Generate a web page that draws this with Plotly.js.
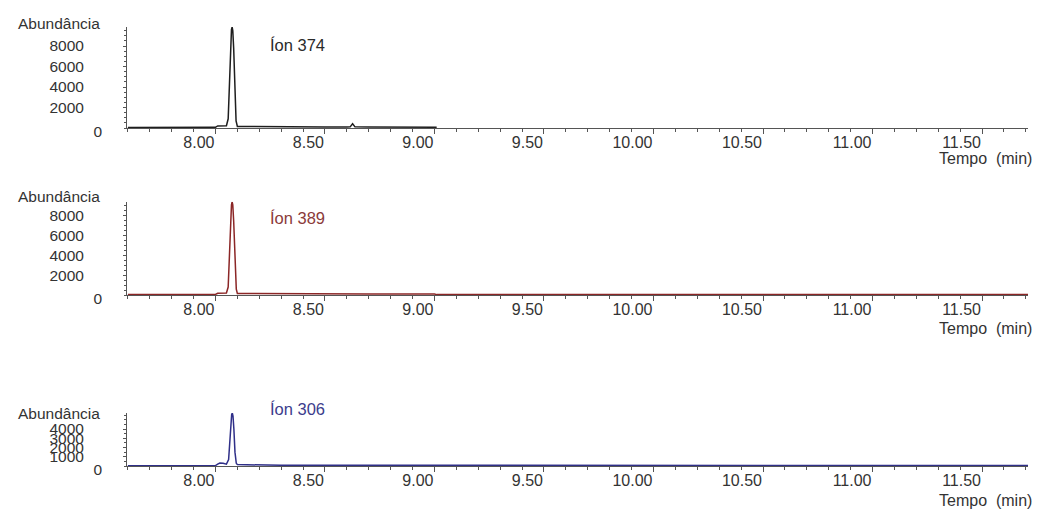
<!DOCTYPE html>
<html>
<head>
<meta charset="utf-8">
<script src="https://cdn.plot.ly/plotly-3.0.1.min.js"></script>
<style>html,body{margin:0;padding:0;background:#fff;}#chart{width:1040px;height:512px;}</style>
</head>
<body>
<div id="chart"></div>
<script>
// ---- data ----
const ionLabels = ['Íon 374', 'Íon 389', 'Íon 306'];
const yTitle = 'Abundância';
const xTitle = 'Tempo\u00a0\u00a0(min)';

const time374 = [7.60, 7.70, 7.80, 7.90, 8.00, 8.01, 8.05, 8.058, 8.064, 8.069, 8.073, 8.076, 8.079, 8.083, 8.088, 8.094, 8.10, 8.20, 8.30, 8.40, 8.50, 8.60, 8.615, 8.626, 8.637, 8.70, 8.80, 8.90, 9.01];
const abund374 = [60, 60, 60, 60, 70, 200, 220, 900, 4500, 8200, 9600, 9850, 9500, 7800, 3800, 700, 150, 120, 110, 100, 100, 100, 110, 420, 110, 100, 90, 90, 80];

const time389 = [7.60, 7.80, 8.00, 8.01, 8.05, 8.058, 8.064, 8.069, 8.073, 8.076, 8.079, 8.083, 8.088, 8.095, 8.10, 8.30, 8.50, 8.70, 9.00, 9.01, 9.50, 10.00, 10.50, 11.00, 11.50, 11.71];
const abund389 = [50, 50, 60, 180, 200, 800, 4200, 7800, 9100, 9400, 9100, 7500, 3600, 600, 150, 120, 110, 110, 100, 40, 40, 40, 40, 40, 40, 40];

const time306 = [7.60, 7.80, 8.00, 8.01, 8.02, 8.035, 8.05, 8.06, 8.066, 8.071, 8.074, 8.077, 8.080, 8.084, 8.089, 8.095, 8.10, 8.30, 8.50, 9.00, 9.50, 10.00, 10.50, 11.00, 11.50, 11.71];
const abund306 = [40, 40, 50, 200, 320, 300, 200, 700, 2600, 4900, 5600, 5700, 5400, 4000, 1500, 300, 150, 80, 80, 60, 50, 50, 50, 50, 50, 50];

const xTickVals = [8.00, 8.50, 9.00, 9.50, 10.00, 10.50, 11.00, 11.50];
const xTickText = ['8.00', '8.50', '9.00', '9.50', '10.00', '10.50', '11.00', '11.50'];
const yTickVals1 = [2000, 4000, 6000, 8000];
const yTickVals2 = [2000, 4000, 6000, 8000];
const yTickVals3 = [1000, 2000, 3000, 4000];
const zeroTick = [0];

// ---- styling ----
const FONT = 'Liberation Sans, Arial, sans-serif';
const TXT = '#333333';
const AX = '#555555';
const lineColors = ['#1e1e1e', '#8b2626', '#2f2f88'];
const labelColors = ['#2a2a2a', '#8b3a3a', '#3c3c8c'];

const xRange = [7.596, 11.71];
const H = 512;
const panels = [
  {base: 128, top: 27, ymax: 9854, ticks: yTickVals1, ionY: 44.5, abY: 23, xt: 158},
  {base: 295, top: 201.7, ymax: 9424, ticks: yTickVals2, ionY: 217.5, abY: 196, xt: 328},
  {base: 466, top: 413, ymax: 5730, ticks: yTickVals3, ionY: 409, abY: 413, xt: 500}
];
const series = [[time374, abund374], [time389, abund389], [time306, abund306]];

const data = [];
const layout = {
  width: 1040, height: 512,
  margin: {l: 127, r: 12, t: 0, b: 0, pad: 0},
  paper_bgcolor: '#ffffff', plot_bgcolor: '#ffffff',
  showlegend: false,
  font: {family: FONT, size: 15, color: TXT},
  annotations: []
};

panels.forEach((p, i) => {
  const n = i + 1;
  const xa = 'xaxis' + (n === 1 ? '' : n);
  const ya = 'yaxis' + (n === 1 ? '' : n);
  const xr = 'x' + (n === 1 ? '' : n);
  const yr = 'y' + (n === 1 ? '' : n);
  const zn = n + 3;
  data.push({
    type: 'scatter', mode: 'lines',
    x: series[i][0], y: series[i][1],
    xaxis: xr, yaxis: yr,
    line: {color: lineColors[i], width: 1.5},
    hoverinfo: 'skip'
  });
  layout[xa] = {
    domain: [0, 1], anchor: yr, range: xRange,
    tickmode: 'array', tickvals: xTickVals, ticktext: xTickText,
    ticklabelposition: 'outside left',
    ticks: 'outside', ticklen: 5, tickcolor: AX, tickwidth: 1,
    minor: {tickmode: 'linear', tick0: 7.6, dtick: 0.1, ticks: 'outside', ticklen: 3, tickcolor: AX, tickwidth: 1},
    showline: true, linecolor: AX, linewidth: 1,
    showgrid: false, zeroline: false, automargin: false,
    tickfont: {family: FONT, size: 16, color: TXT}
  };
  const dom = [1 - p.base / H, 1 - p.top / H];
  layout[ya] = {
    domain: dom, anchor: xr, range: [0, p.ymax],
    tickmode: 'array', tickvals: p.ticks, ticktext: p.ticks.map(String),
    ticks: 'outside', ticklen: 3, tickcolor: AX, tickwidth: 1,
    ticklabelstandoff: 36,
    minor: {tickmode: 'linear', tick0: 0, dtick: 500, ticks: 'outside', ticklen: 2, tickcolor: AX, tickwidth: 1},
    showline: true, linecolor: AX, linewidth: 1,
    showgrid: false, zeroline: false, automargin: false,
    tickfont: {family: FONT, size: 15.5, color: TXT}
  };
  layout['yaxis' + zn] = {
    domain: dom, anchor: xr, overlaying: yr, range: [0, p.ymax],
    tickmode: 'array', tickvals: zeroTick, ticktext: zeroTick.map(String),
    ticks: '', showline: false, showgrid: false, zeroline: false,
    ticklabelstandoff: 24, ticklabelshift: 4, automargin: false,
    tickfont: {family: FONT, size: 15.5, color: TXT}
  };
  data.push({type: 'scatter', mode: 'lines', x: [], y: [], xaxis: xr, yaxis: 'y' + zn, hoverinfo: 'skip'});

  layout.annotations.push({
    text: yTitle, xref: 'paper', yref: 'paper', x: 0, xshift: -25, xanchor: 'right',
    y: 1 - p.abY / H, yanchor: 'middle', showarrow: false,
    font: {family: FONT, size: 15.5, color: TXT}
  });
  layout.annotations.push({
    text: ionLabels[i], xref: 'paper', yref: 'paper', x: (268 - 127) / 901, xanchor: 'left',
    y: 1 - p.ionY / H, yanchor: 'middle', showarrow: false,
    font: {family: FONT, size: 16.5, color: labelColors[i]}
  });
  layout.annotations.push({
    text: xTitle, xref: 'paper', yref: 'paper', x: 1, xshift: 6, xanchor: 'right',
    y: 1 - p.xt / H, yanchor: 'middle', showarrow: false,
    font: {family: FONT, size: 16, color: TXT}
  });
});

Plotly.newPlot('chart', data, layout, {displayModeBar: false, staticPlot: true});
</script>
</body>
</html>
